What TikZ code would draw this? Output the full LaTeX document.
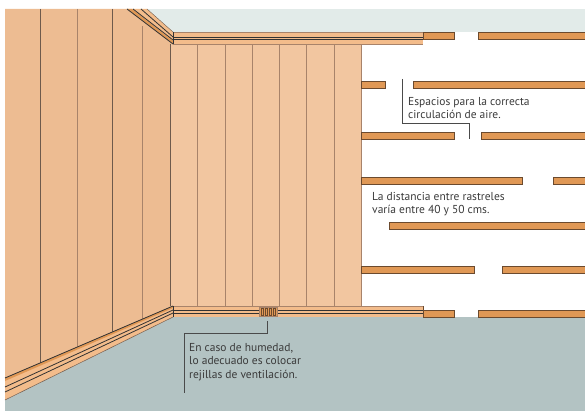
\documentclass[tikz,border=0pt]{standalone}
\usepackage{xcolor}
\usepackage{fontspec}
\setmainfont{PT Sans}
\definecolor{ceilinggrey}{HTML}{E2EBE9}
\definecolor{floorgrey}{HTML}{B3C3C3}
\definecolor{sidewall}{HTML}{EDBC92}
\definecolor{backwall}{HTML}{F2C6A0}
\definecolor{trimfill}{HTML}{F3BC8B}
\definecolor{battenfill}{HTML}{E09855}
\definecolor{battenedge}{HTML}{6B4A2E}
\definecolor{seamdark}{HTML}{6E5A4C}
\definecolor{seamlight}{HTML}{A8836A}
\definecolor{leaderline}{HTML}{4A4A4A}
\definecolor{notetext}{HTML}{3A3A3A}
\tikzset{
    batten/.style={fill=battenfill, draw=battenedge, line width=0.8pt},
    seam/.style={draw=seamlight, line width=0.9pt},
    seamstrong/.style={draw=seamdark, line width=1pt},
    trim/.style={draw=black!80, line width=0.8pt},
    leader/.style={draw=leaderline, line width=1pt},
    note/.style={text=notetext, font=\fontsize{11.5}{13.5}\selectfont, align=left, anchor=north west, inner sep=0pt}
}
\begin{document}
\begin{tikzpicture}[x=1pt,y=-1pt]
    \useasboundingbox (0,0) rectangle (585,411);
    % ceiling and floor
    \fill[ceilinggrey] (147,9) rectangle (585,32);
    \fill[floorgrey] (5,400) -- (173,317) -- (585,317) -- (585,411) -- (5,411) -- cycle;
    % walls
    \fill[sidewall] (5,9) -- (127,9) -- (173,44) -- (173,306) -- (5,378) -- cycle;
    \fill[backwall] (171,44) rectangle (361,306);
    % boards of the side wall
    \foreach \xa/\ya/\yb in {40/9/363, 112/9/332, 170/44/306}
        \draw[seamstrong] (\xa,\ya) -- (\xa,\yb);
    \foreach \xa/\ya/\yb in {77/9/347, 142/26/319}
        \draw[seam] (\xa,\ya) -- (\xa,\yb);
    % boards of the back wall
    \foreach \xa in {197,225,252,279,306,334,361}
        \draw[seam] (\xa,44) -- (\xa,306);
    % rails
    \foreach \ya/\xa/\xb in {32/423/454, 32/478/586, 81/361/385, 81/413/586, 132/361/454, 132/481/586, 177/361/522, 177/553/586, 222/389/586, 266/361/474, 266/502/586, 310/423/454, 310/478/586}
        \draw[batten] (\xa,\ya) rectangle (\xb,\ya+7);
    % crown moulding
    \fill[trimfill] (127,9) -- (147,9) -- (173,32) -- (173,44) -- cycle;
    \fill[battenfill] (127,9) -- (132,9) -- (173,41) -- (173,44) -- cycle;
    \draw[trim] (127,9) -- (173,44);
    \draw[trim] (133,9) -- (173,40);
    \draw[trim] (141,9) -- (173,37);
    \draw[seamdark] (147,9) -- (173,32);
    \fill[trimfill] (173,32) rectangle (423,44);
    \draw[seamlight] (173,32) -- (423,32);
    \draw[seamlight] (173,44) -- (423,44);
    \draw[trim] (173,37) -- (423,37);
    \draw[trim] (173,39.5) -- (423,39.5);
    \draw[trim] (173,32) -- (173,44);
    % skirting
    \fill[trimfill] (5,378) -- (173,306) -- (173,317) -- (5,400) -- cycle;
    \fill[battenfill] (5,378) -- (173,306) -- (173,308) -- (5,381) -- cycle;
    \draw[trim] (5,378) -- (173,306);
    \draw[trim] (5,387) -- (173,310);
    \draw[trim] (5,392) -- (173,313);
    \draw[seamdark, line width=0.5pt] (5,400) -- (173,317);
    \fill[trimfill] (173,306) rectangle (423,317);
    \draw[seamlight] (173,306) -- (423,306);
    \draw[trim] (173,310) -- (423,310);
    \draw[trim] (173,313) -- (423,313);
    \draw[trim] (173,306) -- (173,317);
    \draw[battenedge] (423,306) -- (423,317);
    % grille
    \draw[seamlight, fill=battenfill] (259,307) rectangle (277,316);
    \foreach \xa in {262,266,270,274}
        \draw[battenedge, line width=0.7pt] (\xa-1,308) rectangle (\xa+1,315);
    % notes
    \node[note] (airnote) at (408,97) {Espacios para la correcta\\circulación de aire.};
    \node[note] (gapnote) at (372,192) {La distancia entre rastreles\\varía entre 40 y 50 cms.};
    \node[note] (damp) at (189,343) {En caso de humedad,\\lo adecuado es colocar\\rejillas de ventilación.};
    \coordinate (aira) at (402,79);
    \coordinate (airb) at (469,139);
    \coordinate (dampa) at (267,321);
    \coordinate (dampb) at (184,393);
    \draw[leader] (aira) |- (469,124) -- (airb);
    \draw[leader] (dampa) -- (267,333) -| (dampb);
\end{tikzpicture}
\end{document}
